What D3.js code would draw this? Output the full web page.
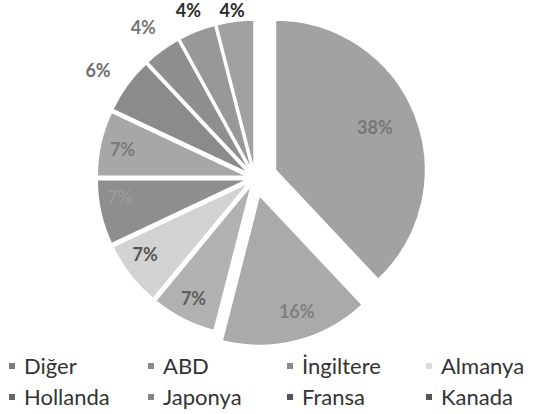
<!DOCTYPE html>
<html>
<head>
<meta charset="utf-8">
<script src="https://cdn.jsdelivr.net/npm/d3@7"></script>
<style>
	body { margin: 0; background: #fff; }
	svg { display: block; }
</style>
</head>
<body>
<div id="chart"></div>
<script>
// shares in percent, clockwise from 12 o'clock
const shares = [38, 16, 7, 7, 7, 7, 6, 4, 4, 4];
// only the first eight entries are visible in the legend
const legendNames = ['Diğer', 'ABD', 'İngiltere', 'Almanya', 'Hollanda', 'Japonya', 'Fransa', 'Kanada'];

const sliceColors = ['#a2a2a2', '#aaaaaa', '#b1b1b1', '#d2d2d2', '#8e8e8e', '#a7a7a7', '#8b8b8b', '#8f8f8f', '#989898', '#a1a1a1'];
const labelColors = ['#777', '#808080', '#5e5e5e', '#555', '#9a9a9a', '#7a7a7a', '#6e6e6e', '#747474', '#2a2a2a', '#2a2a2a'];
const markerColors = ['#7c7c7c', '#8a8a8a', '#8a8a8a', '#dcdcdc', '#666', '#858585', '#555', '#555'];

// label placement (best-fit like): share of the slice's angle and of the radius
const labelFrac = [0.49, 0.44, 0.5, 0.62, 0.68, 0.48, 0.43, 0.46, 0.49, 0.47];
const labelR = [0.72, 0.81, 0.85, 0.84, 0.86, 0.85, 1.27, 1.25, 1.2, 1.15];

const width = 539;
const height = 414;
const cx = 255, cy = 178;
const radius = 150;

const svg = d3.select('#chart')
	.append('svg')
	.attr('width', width)
	.attr('height', height);

svg.append('rect')
	.attr('width', width)
	.attr('height', height)
	.attr('fill', '#fff');

const pie = d3.pie()
	.sort(null)
	.value(d => d);

const arcs = pie(shares);

const arc = d3.arc()
	.innerRadius(0)
	.outerRadius(radius);

// how far each slice is pulled out of the centre
const explode = i => i === 0 ? 22 : i === 1 ? 18 : 8;

function polar(a, r) {
	return [Math.sin(a) * r, -Math.cos(a) * r];
}
const midAngle = d => (d.startAngle + d.endAngle) / 2;

const g = svg.append('g')
	.attr('transform', `translate(${cx}, ${cy})`);

g.selectAll('path.slice')
	.data(arcs)
	.join('path')
	.attr('class', 'slice')
	.attr('d', arc)
	.attr('transform', (d, i) => {
		const [dx, dy] = polar(midAngle(d), explode(i));
		return `translate(${dx}, ${dy})`;
	})
	.attr('fill', (d, i) => sliceColors[i])
	.attr('stroke', '#fff')
	.attr('stroke-width', 1.5);

function labelPos(d, i) {
	const [ex, ey] = labelR[i] < 1 ? polar(midAngle(d), explode(i)) : [0, 0];
	const a = d.startAngle + (d.endAngle - d.startAngle) * labelFrac[i];
	const [lx, ly] = polar(a, radius * labelR[i]);
	// keep the labels above the pie inside the picture
	return [lx + ex, Math.max(ly + ey, 11 - cy)];
}

g.selectAll('text.lbl')
	.data(arcs)
	.join('text')
	.attr('class', 'lbl')
	.attr('x', (d, i) => labelPos(d, i)[0])
	.attr('y', (d, i) => labelPos(d, i)[1])
	.attr('dy', '0.36em')
	.attr('text-anchor', 'middle')
	.style('font-family', 'Lato, sans-serif')
	.style('font-weight', 'bold')
	.style('font-size', '18px')
	.attr('fill', (d, i) => labelColors[i])
	.text(d => d.data + '%');

// legend, 4 columns x 2 rows
const colX = d3.scalePoint()
	.domain(d3.range(4))
	.range([9, 426]);
const rowY = [366, 397];

const legend = svg.append('g')
	.selectAll('g')
	.data(legendNames)
	.join('g')
	.attr('transform', (d, i) => `translate(${colX(i % 4)}, ${rowY[Math.floor(i / 4)]})`);

legend.append('rect')
	.attr('x', 0)
	.attr('y', -3)
	.attr('width', 6)
	.attr('height', 6)
	.attr('fill', (d, i) => markerColors[i]);

legend.append('text')
	.attr('x', 15)
	.attr('dy', '0.35em')
	.style('font-family', 'Lato, sans-serif')
	.style('font-size', '22px')
	.attr('fill', '#333')
	.text(d => d);
</script>
</body>
</html>
